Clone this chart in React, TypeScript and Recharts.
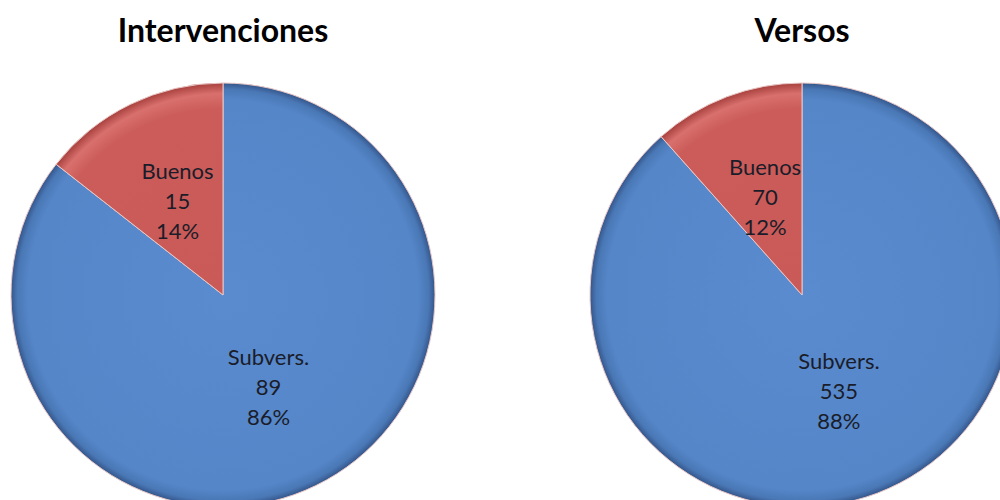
import { Pie, PieChart, Cell } from 'recharts';

const categories = ['Subvers.', 'Buenos'];
const intervenciones = [89, 15];
const versos = [535, 70];
const titles = ['Intervenciones', 'Versos'];

const W = 1000;
const H = 500;
const R = 212;
const pies = [
  { cx: 223, cy: 295, values: intervenciones, title: titles[0] },
  { cx: 802, cy: 295, values: versos, title: titles[1] },
];

const RAD = Math.PI / 180;

function renderLabel(props: any) {
  const { cx, cy, midAngle, outerRadius, percent, value, name } = props;
  const r = outerRadius * 0.49;
  const x = cx + r * Math.cos(-midAngle * RAD);
  const y = cy + r * Math.sin(-midAngle * RAD);
  const lines = [name, String(value), `${Math.round(percent * 100)}%`];
  return (
    <text
      x={x}
      y={y - 30}
      textAnchor="middle"
      fill="#1a1d29"
      fontSize={22}
      fontFamily="Lato, sans-serif"
    >
      {lines.map((l, i) => (
        <tspan key={i} x={x} dy={i === 0 ? 7 : 30}>
          {l}
        </tspan>
      ))}
    </text>
  );
}

export default function App() {
  return (
    <div style={{ position: 'absolute', left: 0, top: 0, width: W, height: H, overflow: 'hidden', background: '#fff' }}>
      <svg width={0} height={0} style={{ position: 'absolute' }}>
        <defs>
          {pies.map((p, i) => (
            <g key={i}>
              <radialGradient id={`blue${i}`} gradientUnits="userSpaceOnUse" cx={p.cx} cy={p.cy} r={R}>
                <stop offset="0%" stopColor="#5a8bcf" />
                <stop offset="92%" stopColor="#5586c8" />
                <stop offset="97%" stopColor="#4a78b6" />
                <stop offset="100%" stopColor="#34568a" />
              </radialGradient>
              <radialGradient id={`red${i}`} gradientUnits="userSpaceOnUse" cx={p.cx} cy={p.cy} r={R}>
                <stop offset="0%" stopColor="#c95a57" />
                <stop offset="88%" stopColor="#cb5c59" />
                <stop offset="95%" stopColor="#d9706d" />
                <stop offset="100%" stopColor="#a8413e" />
              </radialGradient>
            </g>
          ))}
        </defs>
      </svg>
      <PieChart width={W} height={H} margin={{ top: 0, right: 0, bottom: 0, left: 0 }}>
        {pies.map((p, i) => (
          <Pie
            key={i}
            data={categories.map((c, j) => ({ name: c, value: p.values[j] }))}
            dataKey="value"
            nameKey="name"
            cx={p.cx}
            cy={p.cy}
            outerRadius={R}
            startAngle={90}
            endAngle={-270}
            stroke="#e9c7c6"
            strokeWidth={1}
            label={renderLabel}
            labelLine={false}
            isAnimationActive={false}
          >
            <Cell fill={`url(#blue${i})`} />
            <Cell fill={`url(#red${i})`} />
          </Pie>
        ))}
      </PieChart>
      {pies.map((p, i) => (
        <div
          key={i}
          style={{
            position: 'absolute',
            left: p.cx - 200,
            width: 400,
            top: 10,
            textAlign: 'center',
            fontFamily: 'Lato, sans-serif',
            fontWeight: 700,
            fontSize: 32,
            color: '#000',
          }}
        >
          {p.title}
        </div>
      ))}
    </div>
  );
}
